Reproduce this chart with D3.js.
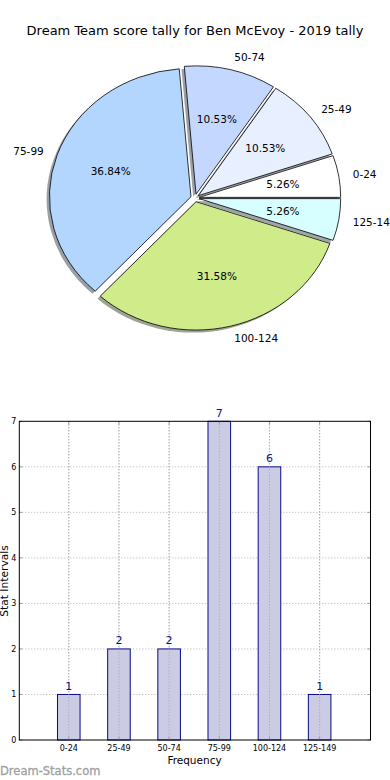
<!DOCTYPE html>
<html>
<head>
<meta charset="utf-8">
<script src="https://cdn.jsdelivr.net/npm/d3@7"></script>
<style>
  body { margin:0; background:#fff; }
  svg { display:block; font-family:"DejaVu Sans", sans-serif; }
  .grid line { stroke:#b0b0b0; stroke-dasharray:1,2; }
</style>
</head>
<body>
<div id="chart"></div>
<script>
// score intervals and how many games fell in each
var categories = ["0-24","25-49","50-74","75-99","100-124","125-149"]
var counts = [1,2,2,7,6,1]
var sliceColours = ["#ffffff","#e8f0ff","#c4d8ff","#b3d6ff","#d0eb8a","#d8ffff"]
var yTicks = [0,1,2,3,4,5,6,7]

var W = 390, H = 780
var svg = d3.select("#chart").append("svg").attr("width",W).attr("height",H)

svg.append("text").attr("x",195).attr("y",35).attr("text-anchor","middle")
  .style("font-size","13px").text("Dream Team score tally for Ben McEvoy - 2019 tally")

// ---- pie (matplotlib style, starts at 3 o'clock, counter-clockwise, squashed) ----
var cx = 195, cy = 198, rx = 141.5, ry = 128.3
var explode = 0.03
var total = d3.sum(counts)

var pie = d3.pie().sort(null).startAngle(Math.PI/2).endAngle(Math.PI/2 - 2*Math.PI)
var arcs = pie(counts)
var arc = d3.arc().innerRadius(0).outerRadius(1)

function mid(d){ return (d.startAngle+d.endAngle)/2 }
function ux(a){ return Math.sin(a) }
function uy(a){ return -Math.cos(a) }

var pg = svg.append("g").attr("transform","translate("+cx+","+cy+") scale("+rx+","+ry+")")

// shadows first, below all wedges
pg.selectAll(".shadow").data(arcs).enter().append("path").classed("shadow",true)
  .attr("d",arc)
  .attr("transform",d=>"translate("+(explode*ux(mid(d))-0.02)+","+(explode*uy(mid(d))+0.02)+")")
  .style("fill",(d,i)=>{var c=d3.rgb(sliceColours[i]); return d3.rgb(c.r*0.3,c.g*0.3,c.b*0.3)})
  .style("opacity",0.5)

pg.selectAll(".wedge").data(arcs).enter().append("path").classed("wedge",true)
  .attr("d",arc)
  .attr("transform",d=>"translate("+(explode*ux(mid(d)))+","+(explode*uy(mid(d)))+")")
  .style("fill",(d,i)=>sliceColours[i])
  .style("stroke","#000").style("stroke-width",0.8)
  .attr("vector-effect","non-scaling-stroke")

var lg = svg.append("g").style("font-size","10.5px")
lg.selectAll(".lab").data(arcs).enter().append("text")
  .attr("x",d=>cx+rx*(explode+1.1)*ux(mid(d)))
  .attr("y",d=>cy+ry*(explode+1.1)*uy(mid(d)))
  .attr("dy","0.35em")
  .attr("text-anchor",d=>ux(mid(d))>0?"start":"end")
  .text((d,i)=>categories[i])
lg.selectAll(".pct").data(arcs).enter().append("text")
  .attr("x",d=>cx+rx*(explode+0.6)*ux(mid(d)))
  .attr("y",d=>cy+ry*(explode+0.6)*uy(mid(d)))
  .attr("dy","0.35em").attr("text-anchor","middle")
  .text(d=>(100*d.value/total).toFixed(2)+"%")

// ---- bar chart ----
var bLeft = 19.3, bRight = 370.5, bTop = 421.3, bBottom = 740
var x = d3.scaleLinear().domain([0,7]).range([bLeft-0.7,bRight-0.7])
var y = d3.scaleLinear().domain([0,7]).range([bBottom,bTop])
var pos = categories.map((c,i)=>i+1)
var barW = 0.45

var grid = svg.append("g").classed("grid",true)
grid.selectAll(".vg").data(pos).enter().append("line")
  .attr("x1",d=>x(d)).attr("x2",d=>x(d)).attr("y1",bTop).attr("y2",bBottom)
grid.selectAll(".hg").data(yTicks.slice(1,-1)).enter().append("line")
  .attr("x1",bLeft).attr("x2",bRight).attr("y1",d=>y(d)).attr("y2",d=>y(d))

svg.selectAll(".bar").data(counts).enter().append("rect")
  .attr("x",(d,i)=>x(pos[i]-barW/2)).attr("width",x(barW)-x(0))
  .attr("y",d=>y(d)).attr("height",d=>bBottom-y(d))
  .style("fill","#cbcbe3")
  .style("stroke","#0b0b8a").style("stroke-width",1)

// dotted vertical grid shows through the bars
var grid2 = svg.append("g").classed("grid",true)
grid2.selectAll("line").data(pos).enter().append("line")
  .attr("x1",d=>x(d)).attr("x2",d=>x(d)).attr("y1",bTop).attr("y2",bBottom)
  .style("stroke","#a0a0b8")

svg.selectAll(".val").data(counts).enter().append("text")
  .attr("x",(d,i)=>x(pos[i])).attr("y",d=>y(d)-4.5)
  .attr("text-anchor","middle").style("font-size","11px").style("fill","#0b0b8a")
  .text(d=>d)

// inner tick marks
var tk = svg.append("g").style("stroke","#999")
pos.forEach(p=>{
  tk.append("line").attr("x1",x(p)).attr("x2",x(p)).attr("y1",bBottom).attr("y2",bBottom-3)
  tk.append("line").attr("x1",x(p)).attr("x2",x(p)).attr("y1",bTop).attr("y2",bTop+3)
})
yTicks.forEach(t=>{
  tk.append("line").attr("x1",bLeft).attr("x2",bLeft+3).attr("y1",y(t)).attr("y2",y(t))
  tk.append("line").attr("x1",bRight).attr("x2",bRight-3).attr("y1",y(t)).attr("y2",y(t))
})

svg.append("rect").attr("x",bLeft).attr("y",bTop).attr("width",bRight-bLeft).attr("height",bBottom-bTop)
  .style("fill","none").style("stroke","#000").style("stroke-width",1)

svg.append("g").selectAll("text").data(categories).enter().append("text")
  .attr("x",(d,i)=>x(pos[i])).attr("y",bBottom+11)
  .attr("text-anchor","middle").style("font-size","8px").text(d=>d)
svg.append("g").selectAll("text").data(yTicks).enter().append("text")
  .attr("x",bLeft-3).attr("y",d=>y(d)).attr("dy","0.35em")
  .attr("text-anchor","end").style("font-size","8px").text(d=>d)

svg.append("text").attr("x",194.5).attr("y",764).attr("text-anchor","middle")
  .style("font-size","10.5px").text("Frequency")
svg.append("text").attr("transform","translate(7.5,581) rotate(-90)").attr("text-anchor","middle")
  .style("font-size","10.7px").text("Stat Intervals")

svg.append("text").attr("x",0).attr("y",775).style("font-size","11.5px")
  .style("fill","#a0a0a0").style("stroke","#a0a0a0").style("stroke-width",0.3)
  .text("Dream-Stats.com")
</script>
</body>
</html>
